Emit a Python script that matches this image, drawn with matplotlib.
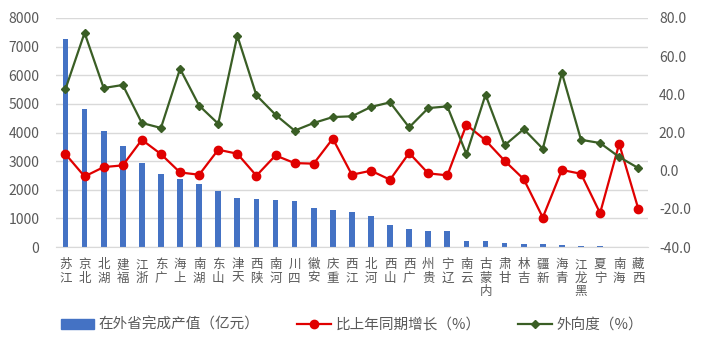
import matplotlib
matplotlib.use("Agg")
import matplotlib.pyplot as plt
from matplotlib.lines import Line2D
from matplotlib.patches import Patch

plt.rcParams['font.family'] = ['Noto Sans CJK SC', 'DejaVu Sans']

provinces = ['江苏', '北京', '湖北', '福建', '浙江', '广东', '上海', '湖南', '山东', '天津',
             '陕西', '河南', '四川', '安徽', '重庆', '江西', '河北', '山西', '广西', '贵州',
             '辽宁', '云南', '内蒙古', '甘肃', '吉林', '新疆', '青海', '黑龙江', '宁夏', '海南', '西藏']
output_value = [7260, 4820, 4060, 3530, 2920, 2550, 2370, 2210, 1960, 1700,
                1670, 1640, 1610, 1380, 1290, 1230, 1080, 780, 630, 570,
                570, 230, 210, 140, 120, 120, 80, 35, 25, 10, 5]
growth = [8.7, -3.0, 1.9, 2.8, 16.2, 8.7, -0.9, -2.1, 11.0, 8.9,
          -2.6, 8.0, 4.0, 3.7, 16.8, -2.1, 0.0, -4.7, 9.3, -1.4,
          -2.4, 24.1, 15.9, 5.2, -4.4, -24.5, 0.4, -1.6, -22.2, 14.1, -19.9]
outward = [42.8, 72.2, 43.3, 44.9, 25.0, 22.4, 53.4, 34.1, 24.6, 70.7,
           39.5, 29.3, 21.0, 25.0, 28.1, 28.5, 33.4, 35.8, 22.7, 32.8,
           33.7, 8.7, 39.8, 13.3, 21.8, 11.5, 51.2, 16.2, 14.5, 7.2, 1.4]

series_names = ['在外省完成产值（亿元）', '比上年同期增长（%）', '外向度（%）']

bar_color = '#4472C4'
red = '#E00000'
green = '#3A5E25'
grey = '#595959'

fig = plt.figure(figsize=(7.08, 3.52), dpi=100)
ax = fig.add_axes([0.079, 0.298, 0.836, 0.651])
x = list(range(len(provinces)))

ax.bar(x, output_value, width=0.3, color=bar_color, zorder=2)
ax.set_ylim(0, 8000)
ax.set_yticks(range(0, 8001, 1000))
ax.set_xlim(-0.5, len(provinces) - 0.5)
ax.grid(axis='y', color='#D9D9D9', linewidth=1.0, zorder=0)
ax.set_axisbelow(True)
for s in ['top', 'right', 'left']:
    ax.spines[s].set_visible(False)
ax.spines['bottom'].set_color('#D9D9D9')
ax.tick_params(axis='y', length=0, labelsize=10, labelcolor=grey, pad=12)
ax.tick_params(axis='x', length=0, labelsize=9, labelcolor=grey, pad=8)
ax.set_xticks(x)
ax.set_xticklabels(['\n'.join(reversed(p)) for p in provinces], linespacing=1.05, va='top')

ax2 = ax.twinx()
ax2.plot(x, growth, color=red, linewidth=1.6, marker='o', markersize=6, zorder=3)
ax2.plot(x, outward, color=green, linewidth=1.6, marker='D', markersize=4.5, zorder=3)
ax2.set_ylim(-40, 80)
ax2.set_yticks(range(-40, 81, 20))
ax2.set_yticklabels([f'{v:.1f}' for v in range(-40, 81, 20)])
for s in ['top', 'right', 'left', 'bottom']:
    ax2.spines[s].set_visible(False)
ax2.tick_params(axis='y', length=0, labelsize=10, labelcolor=grey, pad=8)

handles = [Patch(color=bar_color),
           Line2D([0], [0], color=red, linewidth=1.6, marker='o', markersize=6),
           Line2D([0], [0], color=green, linewidth=1.6, marker='D', markersize=4.5)]
fig.legend(handles, series_names, loc='center', bbox_to_anchor=(0.497, 0.077), ncol=3,
           frameon=False, fontsize=10.5, handlelength=2.3, columnspacing=2.6,
           handletextpad=0.3, labelcolor=grey)

fig.savefig('out.png', dpi=100)
